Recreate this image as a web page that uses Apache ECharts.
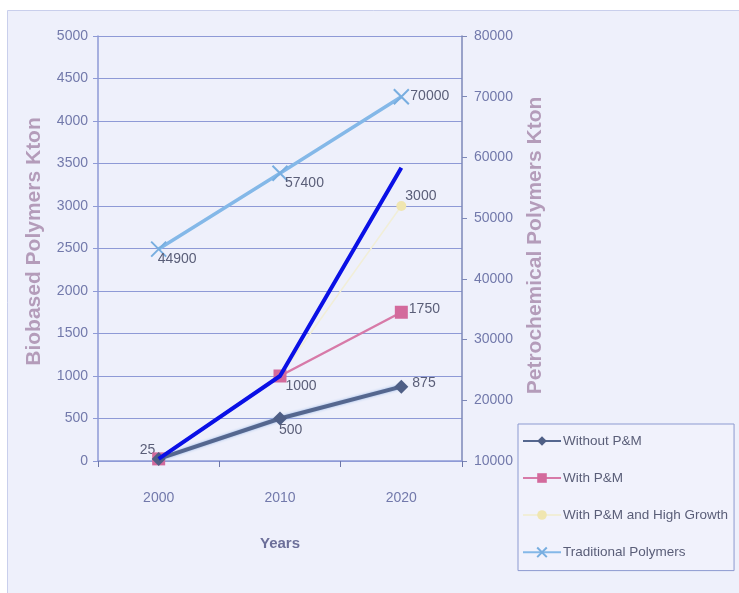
<!DOCTYPE html>
<html>
<head>
<meta charset="utf-8">
<script src="https://cdn.jsdelivr.net/npm/echarts@6/dist/echarts.min.js"></script>
<style>
  html, body { margin: 0; padding: 0; background: #ffffff; }
  #chart { width: 739px; height: 593px; }
</style>
</head>
<body>
<div id="chart"></div>
<script>
// Category axis and series values (kton)
const years = ['2000', '2010', '2020'];
const withoutPM = [25, 500, 875];
const withPM = [25, 1000, 1750];
const withPMHighGrowth = [25, 1000, 3000];
const traditionalPolymers = [44900, 57400, 70000];
// Hand-drawn trend line on the biobased scale
const trendLine = [25, 1000, 3450];

const font = 'Liberation Sans, sans-serif';
const tickColor = '#7279ab';
const labelColor = '#5a5e78';
const gridColor = '#8e9ad6';
const plain = v => String(v);

const chart = echarts.init(document.getElementById('chart'));

chart.setOption({
  backgroundColor: '#ffffff',
  animation: false,
  grid: { left: 98, right: 277, top: 36, bottom: 132 },
  graphic: [{
    type: 'rect', left: 7, top: 10, z: -10, silent: true,
    shape: { width: 740, height: 590 },
    style: { fill: '#eef0fb', stroke: '#c9cfec', lineWidth: 1 }
  }],
  legend: {
    orient: 'vertical', left: 518, top: 424, width: 217,
    itemGap: 23, itemWidth: 38, itemHeight: 12,
    padding: [10, 6, 11, 4],
    borderColor: '#8d9ad0', borderWidth: 1, backgroundColor: '#f1f2fc',
    textStyle: { color: labelColor, fontFamily: font, fontSize: 13.5, padding: [0, 0, 0, -3] },
    data: ['Without P&M', 'With P&M', 'With P&M and High Growth', 'Traditional Polymers']
  },
  xAxis: {
    type: 'category', data: years, boundaryGap: true,
    name: 'Years', nameLocation: 'middle', nameGap: 75,
    nameTextStyle: { color: '#6c6f99', fontFamily: font, fontSize: 15, fontWeight: 'bold' },
    axisLine: { lineStyle: { color: gridColor, width: 1.5 } },
    axisTick: { show: true, length: 6, lineStyle: { color: '#6c76a8' } },
    axisLabel: { color: tickColor, fontFamily: font, fontSize: 14, margin: 30 }
  },
  yAxis: [{
    type: 'value', min: 0, max: 5000, interval: 500,
    name: 'Biobased Polymers Kton', nameLocation: 'middle', nameGap: 53,
    nameTextStyle: { color: '#b49cba', fontFamily: font, fontSize: 21, fontWeight: 'bold',
      padding: [0, 0, 0, 14] },
    axisLine: { show: true, lineStyle: { color: gridColor, width: 1.5 } },
    axisTick: { show: true, length: 5, lineStyle: { color: gridColor } },
    axisLabel: { color: tickColor, fontFamily: font, fontSize: 14, margin: 10, formatter: plain },
    splitLine: { show: true, lineStyle: { color: gridColor, width: 1.2 } }
  }, {
    type: 'value', min: 10000, max: 80000, interval: 10000,
    name: 'Petrochemical Polymers Kton', nameLocation: 'middle', nameGap: 63,
    nameTextStyle: { color: '#b49cba', fontFamily: font, fontSize: 21, fontWeight: 'bold',
      padding: [0, 0, 0, 6] },
    axisLine: { show: true, lineStyle: { color: '#7d88b8', width: 1.5 } },
    axisTick: { show: true, length: 5, lineStyle: { color: '#7d88b8' } },
    axisLabel: { color: tickColor, fontFamily: font, fontSize: 14, margin: 12, formatter: plain },
    splitLine: { show: false }
  }],
  series: [{
    name: 'Without P&M', type: 'line', yAxisIndex: 0, data: withoutPM,
    symbol: 'diamond', symbolSize: 14,
    lineStyle: { color: '#55678f', width: 4, shadowColor: '#9ab8e6', shadowBlur: 3 },
    itemStyle: { color: '#4f5f86' },
    label: { show: true, color: labelColor, fontFamily: font, fontSize: 14,
      formatter: p => p.dataIndex === 0 ? '' : p.value, position: 'right' },
    labelLayout: p => p.dataIndex === 1 ? { dx: -13, dy: 12 } : { dx: -1, dy: -3 },
    z: 3
  }, {
    name: 'With P&M', type: 'line', yAxisIndex: 0, data: withPM,
    symbol: 'rect', symbolSize: 13,
    lineStyle: { color: '#d77aa8', width: 2.5 },
    itemStyle: { color: '#d36a9c' },
    label: { show: true, color: labelColor, fontFamily: font, fontSize: 14,
      formatter: p => p.dataIndex === 0 ? '' : p.value, position: 'right' },
    labelLayout: p => p.dataIndex === 1 ? { dx: -6, dy: 10 } : { dx: -4, dy: -3 },
    z: 2
  }, {
    name: 'With P&M and High Growth', type: 'line', yAxisIndex: 0, data: withPMHighGrowth,
    symbol: 'circle', symbolSize: 10,
    lineStyle: { color: '#f1eed8', width: 1.5 },
    itemStyle: { color: '#f0e6b0' },
    label: { show: true, color: labelColor, fontFamily: font, fontSize: 14,
      formatter: p => p.dataIndex === 1 ? '' : p.value, position: 'right' },
    labelLayout: p => p.dataIndex === 0 ? { dx: -29, dy: -9 } : { dx: -6, dy: -10 },
    z: 1
  }, {
    name: 'Traditional Polymers', type: 'line', yAxisIndex: 1, data: traditionalPolymers,
    symbol: 'path://M0,0L10,10M10,0L0,10', symbolSize: 15,
    lineStyle: { color: '#84b8e8', width: 3.5 },
    itemStyle: { color: 'none', borderColor: '#78aee0', borderWidth: 2 },
    label: { show: true, color: labelColor, fontFamily: font, fontSize: 14,
      position: 'right', formatter: p => plain(p.value) },
    labelLayout: p => p.dataIndex === 2 ? { dx: -6, dy: -1 } : (p.dataIndex === 0 ? { dx: -16, dy: 10 } : { dx: -10, dy: 10 }),
    z: 2
  }, {
    name: 'trend', type: 'line', yAxisIndex: 0, data: trendLine,
    symbol: 'none', lineStyle: { color: '#0a10e6', width: 4 },
    label: { show: false }, z: 5
  }]
});
</script>
</body>
</html>
